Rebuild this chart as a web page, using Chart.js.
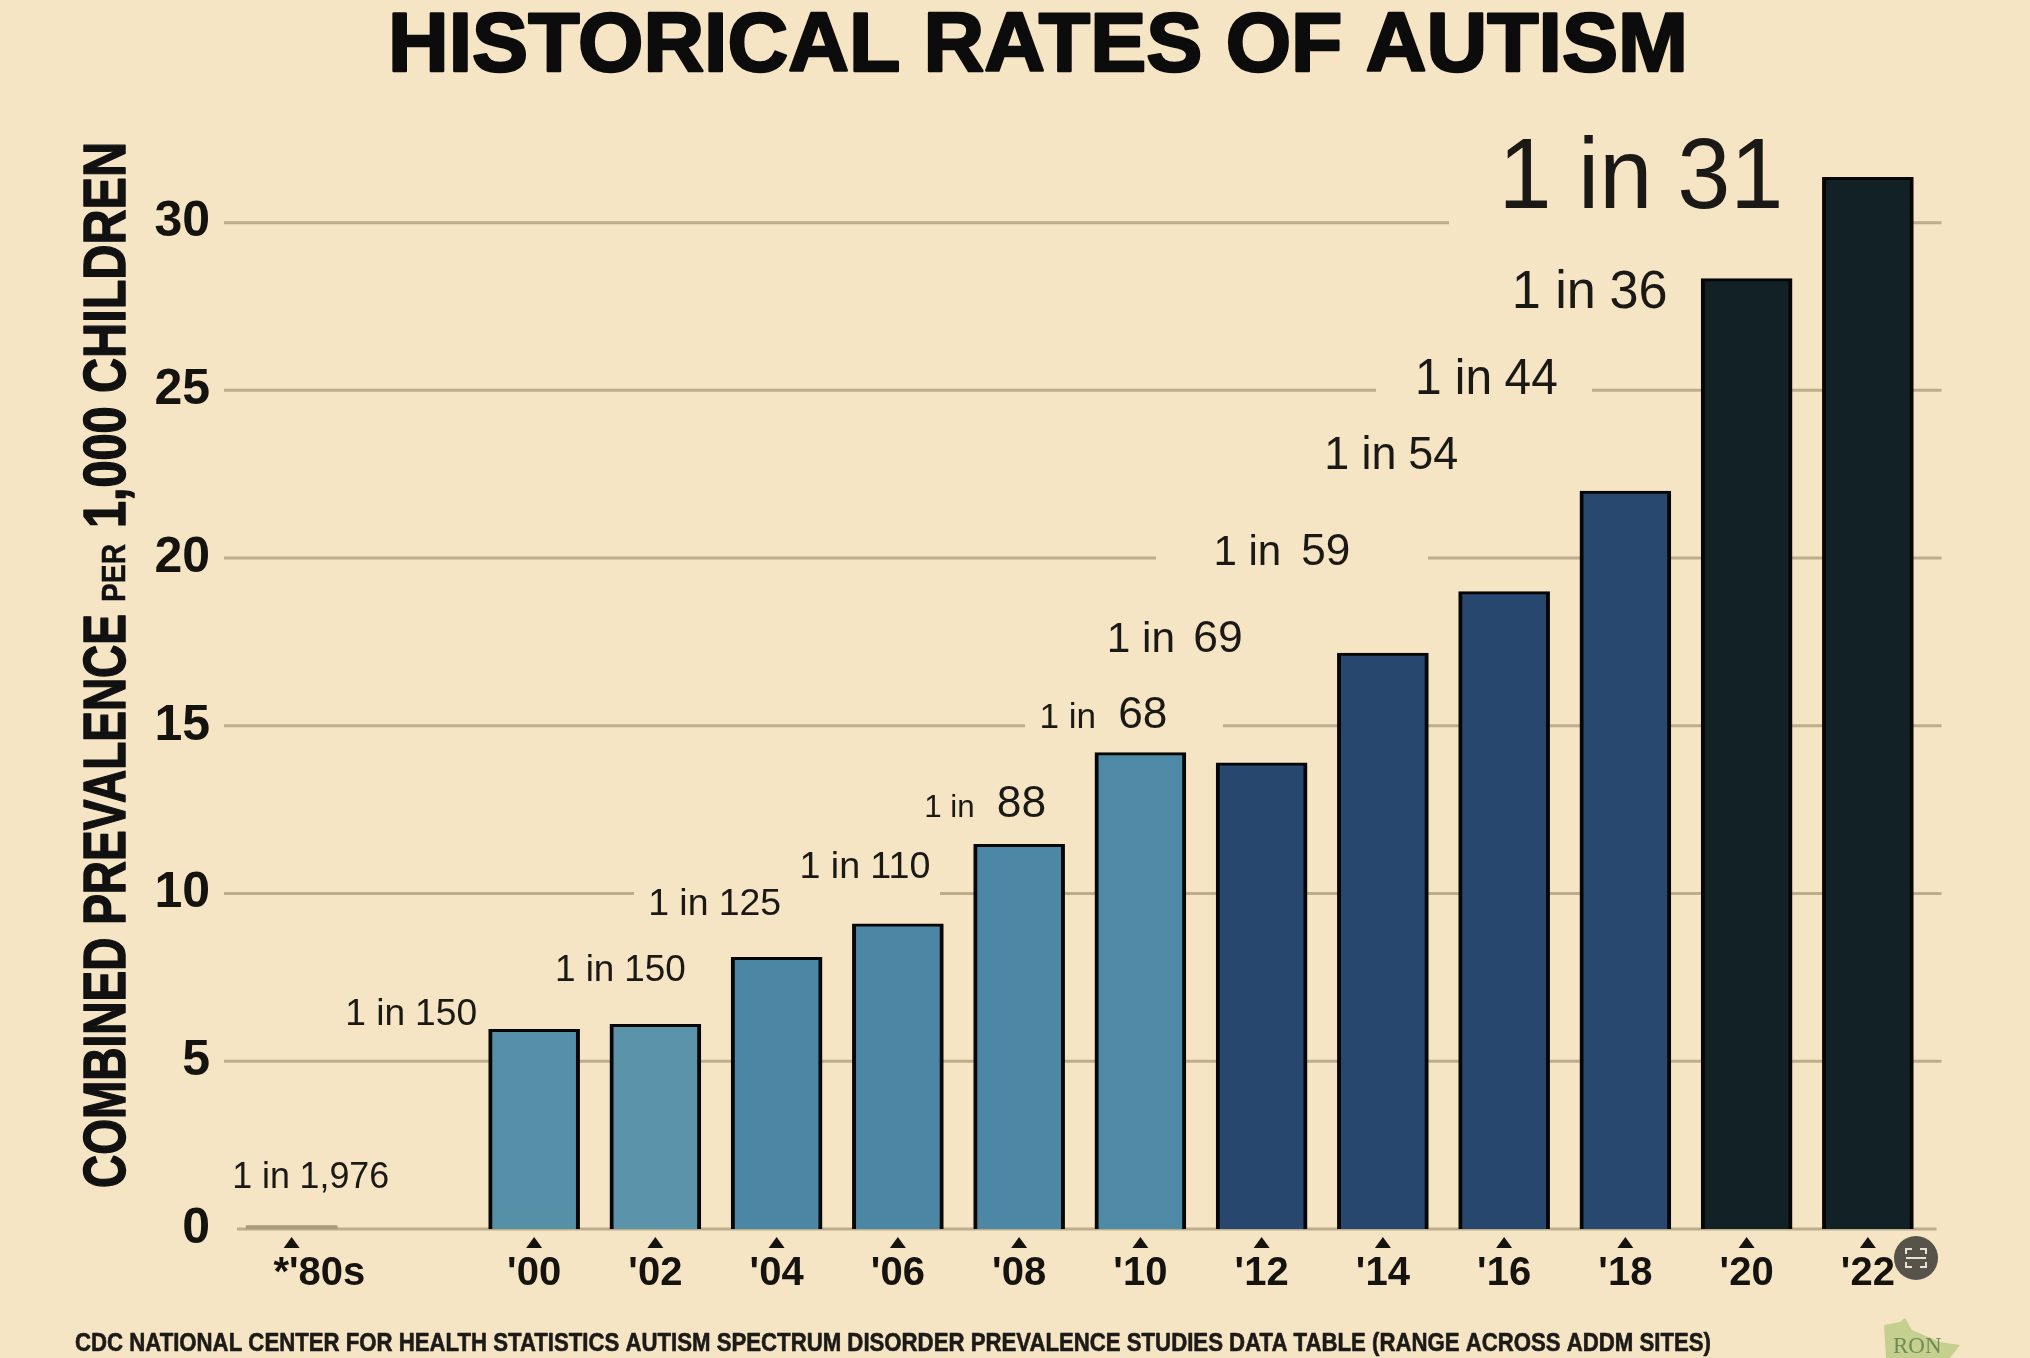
<!DOCTYPE html>
<html>
<head>
<meta charset="utf-8">
<title>Historical Rates of Autism</title>
<script src="https://cdn.jsdelivr.net/npm/chart.js@4/dist/chart.umd.min.js"></script>
<style>
  html, body { margin: 0; padding: 0; background: #f6e5c4; }
  canvas { display: block; }
</style>
</head>
<body>
<canvas id="chart" width="2030" height="1358"></canvas>
<script>
// values (per 1,000 children), blank slot between '80s and '00
const categories = ["*'80s", '', "'00", "'02", "'04", "'06", "'08", "'10", "'12", "'14", "'16", "'18", "'20", "'22"];
const prevalence = [0.1, null, 5.95, 6.1, 8.1, 9.1, 11.47, 14.2, 13.9, 17.17, 19, 22, 28.33, 31.35];
const rateLabels = ['1 in 1,976', '', '1 in 150', '1 in 150', '1 in 125', '1 in 110', '1 in 88', '1 in 68', '1 in 69', '1 in 59', '1 in 54', '1 in 44', '1 in 36', '1 in 31'];

const chartTitle = 'HISTORICAL RATES OF AUTISM';
const axisTitle = ['COMBINED PREVALENCE', 'PER', '1,000 CHILDREN'];
const sourceNote = 'CDC NATIONAL CENTER FOR HEALTH STATISTICS AUTISM SPECTRUM DISORDER PREVALENCE STUDIES DATA TABLE (RANGE ACROSS ADDM SITES)';

// styling only
const barColors = ['#a89b7c', null, '#568fa8', '#5a93aa', '#4b86a4', '#4b86a4', '#4c88a6', '#4e89a6',
                   '#27476e', '#27476e', '#27476e', '#29486f', '#122126', '#122126'];
const labelStyles = [
  { dx: 19, dy: -51, head: 37, num: 37, gap: 10, w: 157 },
  null,
  { dx: -123, dy: -17, head: 37, num: 37, gap: 10, w: 132 },
  { dx: -35, dy: -56, head: 37, num: 37, gap: 10, w: 131 },
  { dx: -62, dy: -55, head: 37, num: 37, gap: 10, w: 133 },
  { dx: -33, dy: -59, head: 37, num: 37, gap: 10, w: 131 },
  { dx: -34, dy: -43, head: 31, num: 44, gap: 22, w: 122 },
  { dx: -37, dy: -40, head: 35, num: 44, gap: 22, w: 128 },
  { dx: -87, dy: -126, head: 42, num: 44, gap: 18, w: 136 },
  { dx: -101, dy: -103, head: 42, num: 44, gap: 20, w: 137 },
  { dx: -113, dy: -139, head: 46, num: 46, gap: 12, w: 134 },
  { dx: -139, dy: -115, head: 50, num: 50, gap: 13, w: 143 },
  { dx: -157, dy: 10, head: 54, num: 54, gap: 14, w: 156 },
  { dx: -227, dy: -4, head: 100, num: 100, gap: 26, w: 285 }
];
// stretches where a grid line is hidden behind the rate labels
const gridGaps = { 10: [634, 940], 15: [1025, 1223], 20: [1156, 1428], 25: [1376, 1592], 30: [1449, 1833] };
const GRID_COLOR = '#bdae8b';

function fitText(ctx, text, font, x, y, width, heavy) {
  ctx.save();
  ctx.font = font;
  ctx.textAlign = 'left';
  ctx.textBaseline = 'alphabetic';
  const natural = ctx.measureText(text).width;
  ctx.translate(x, y);
  ctx.scale(width / natural, 1);
  ctx.fillText(text, 0, 0);
  if (heavy) {
    ctx.strokeStyle = ctx.fillStyle;
    ctx.lineWidth = heavy;
    ctx.lineJoin = 'round';
    ctx.strokeText(text, 0, 0);
  }
  ctx.restore();
}

const gridPlugin = {
  id: 'gridLines',
  beforeDatasetsDraw(chart) {
    const { ctx, chartArea, scales: { y } } = chart;
    ctx.save();
    ctx.strokeStyle = GRID_COLOR;
    ctx.lineWidth = 3;
    for (const tick of y.ticks) {
      const py = y.getPixelForValue(tick.value);
      const left = tick.value === 0 ? chartArea.left + 6 : chartArea.left - 7;
      const right = tick.value === 0 ? chartArea.right + 8 : chartArea.right + 13;
      const gap = gridGaps[tick.value];
      ctx.beginPath();
      ctx.moveTo(left, py);
      if (gap) {
        ctx.lineTo(gap[0], py);
        ctx.moveTo(gap[1], py);
      }
      ctx.lineTo(right, py);
      ctx.stroke();
    }
    ctx.restore();
  }
};

const annotationPlugin = {
  id: 'annotations',
  afterDatasetsDraw(chart) {
    const { ctx, scales: { x, y } } = chart;
    ctx.save();

    // title, source note
    ctx.fillStyle = '#0c0c0c';
    fitText(ctx, chartTitle, 'bold 83px "Liberation Sans"', 388, 71, 1300, 2.5);
    ctx.fillStyle = '#1d1b18';
    fitText(ctx, sourceNote, 'bold 25px "Liberation Sans"', 75, 1351, 1636, 0.6);

    // y axis title, the small PER sits inside it
    ctx.save();
    ctx.translate(125, 0);
    ctx.rotate(-Math.PI / 2);
    ctx.fillStyle = '#111';
    fitText(ctx, axisTitle[0], 'bold 60px "Liberation Sans"', -1188, 0, 574, 1.5);
    fitText(ctx, axisTitle[1], 'bold 34px "Liberation Sans"', -602, 0, 58, 0.5);
    fitText(ctx, axisTitle[2], 'bold 60px "Liberation Sans"', -528, 0, 386, 1.5);
    ctx.restore();

    // tick triangles under the axis
    ctx.fillStyle = '#15130f';
    categories.forEach((cat, i) => {
      if (!cat) return;
      const px = x.getPixelForTick(i);
      ctx.beginPath();
      ctx.moveTo(px, 1237);
      ctx.lineTo(px + 8, 1248);
      ctx.lineTo(px - 8, 1248);
      ctx.closePath();
      ctx.fill();
    });

    // "1 in N" labels, anchored to their bars
    ctx.fillStyle = '#1a1915';
    rateLabels.forEach((label, i) => {
      const st = labelStyles[i];
      if (!label || !st) return;
      const cut = label.lastIndexOf(' ');
      const head = label.slice(0, cut);
      const num = label.slice(cut + 1);
      const cx = x.getPixelForTick(i) + st.dx;
      const cy = y.getPixelForValue(prevalence[i]) + st.dy;

      ctx.font = st.head + 'px "Liberation Sans"';
      const headW = ctx.measureText(head).width;
      ctx.font = st.num + 'px "Liberation Sans"';
      const numW = ctx.measureText(num).width;
      const s = st.w / (headW + st.gap + numW);

      ctx.save();
      ctx.translate(cx - st.w / 2, cy + st.num * 0.35);
      ctx.scale(s, 1);
      ctx.textAlign = 'left';
      ctx.textBaseline = 'alphabetic';
      ctx.font = st.head + 'px "Liberation Sans"';
      ctx.fillText(head, 0, 0);
      ctx.font = st.num + 'px "Liberation Sans"';
      ctx.fillText(num, headW + st.gap, 0);
      ctx.restore();
    });

    // corner logo
    ctx.fillStyle = '#c5d08f';
    ctx.beginPath();
    ctx.moveTo(1886, 1358);
    ctx.lineTo(1884, 1325);
    ctx.lineTo(1900, 1322);
    ctx.lineTo(1905, 1318);
    ctx.lineTo(1912, 1330);
    ctx.lineTo(1940, 1342);
    ctx.lineTo(1960, 1345);
    ctx.lineTo(1950, 1358);
    ctx.closePath();
    ctx.fill();
    ctx.fillStyle = '#6f8c58';
    ctx.font = '23px "Liberation Serif"';
    ctx.textAlign = 'left';
    ctx.fillText('RON', 1893, 1353);

    // screenshot button sitting over the '22 label
    ctx.fillStyle = '#57524a';
    ctx.beginPath();
    ctx.arc(1916, 1258, 22, 0, Math.PI * 2);
    ctx.fill();
    ctx.strokeStyle = '#e8e2d4';
    ctx.lineWidth = 2;
    ctx.beginPath();
    for (const [sx, sy] of [[1, 1], [-1, 1], [1, -1], [-1, -1]]) {
      ctx.moveTo(1916 + sx * 10, 1258 + sy * 4);
      ctx.lineTo(1916 + sx * 10, 1258 + sy * 9);
      ctx.lineTo(1916 + sx * 4, 1258 + sy * 9);
    }
    ctx.moveTo(1906, 1258);
    ctx.lineTo(1926, 1258);
    ctx.stroke();

    ctx.restore();
  }
};

new Chart(document.getElementById('chart').getContext('2d'), {
  type: 'bar',
  data: {
    labels: categories,
    datasets: [{
      data: prevalence,
      backgroundColor: barColors,
      borderColor: '#060606',
      borderWidth: ctx => ctx.dataIndex === 0 ? 0 : { top: 3, left: 4, right: 4, bottom: 0 },
      borderSkipped: false,
      barThickness: 91
    }]
  },
  options: {
    responsive: false,
    animation: false,
    devicePixelRatio: 1,
    layout: { padding: { top: 122, right: 101.5, left: 0, bottom: 0 } },
    plugins: {
      legend: { display: false },
      title: { display: false },
      tooltip: { enabled: false }
    },
    scales: {
      x: {
        grid: { display: false },
        border: { display: false },
        ticks: {
          autoSkip: false,
          maxRotation: 0,
          minRotation: 0,
          padding: 13,
          color: '#15130f',
          font: { family: '"Liberation Sans"', size: 40, weight: 'bold' },
          callback: function(value, index) {
            // the '80s label hangs to the right of its triangle
            return index === 0 ? '     ' + categories[index] : categories[index];
          }
        },
        afterFit: scale => { scale.height = 129; }
      },
      y: {
        min: 0,
        max: 33,
        grid: { display: false },
        border: { display: false },
        ticks: {
          stepSize: 5,
          includeBounds: false,
          padding: 13,
          color: '#15130f',
          font: { family: '"Liberation Sans"', size: 50, weight: 'bold' }
        },
        afterFit: scale => { scale.width = 231; }
      }
    }
  },
  plugins: [gridPlugin, annotationPlugin]
});
</script>
</body>
</html>
